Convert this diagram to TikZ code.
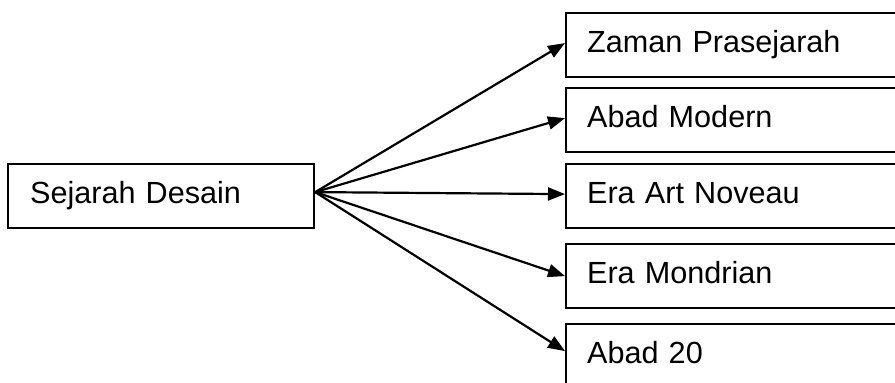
\documentclass[tikz,border=0pt]{standalone}
\usepackage{fontspec}
\setmainfont{Liberation Sans}
\usetikzlibrary{arrows.meta,calc}
\begin{document}
\begin{tikzpicture}[x=1pt,y=-1pt,
  box/.style={draw=black,line width=2.2pt,rectangle,anchor=north west,
    minimum height=64pt,text height=22pt,text depth=8pt,align=left,
    font=\fontsize{30.6}{36}\selectfont,inner ysep=0pt},
  leftbox/.style={box,inner xsep=22pt,text width=262pt},
  rightbox/.style={box,inner xsep=21pt,text width=318pt},
  conn/.style={line width=2.2pt,-{Triangle[length=17pt,width=13pt]}}]
\useasboundingbox (0,0) rectangle (895,383);
\clip (0,0) rectangle (895,383);
\node[leftbox] (src) at (7,163) {Sejarah Desain};
\node[rightbox] (b1) at (565,12) {Zaman Prasejarah};
\node[rightbox] (b2) at (565,87) {Abad Modern};
\node[rightbox] (b3) at (565,163) {Era Art Noveau};
\node[rightbox] (b4) at (565,243) {Era Mondrian};
\node[rightbox] (b5) at (565,323) {Abad 20};
\coordinate (o) at ($(src.east)+(0,-4)$);
\draw[conn] (o) -- ($(b1.west)+(0,-2)$);
\draw[conn] (o) -- ($(b2.west)+(0,-2)$);
\draw[conn] (o) -- ($(b3.west)+(0,-2)$);
\draw[conn] (o) -- ($(b4.west)+(0,0)$);
\draw[conn] (o) -- ($(b5.west)+(0,-5)$);
\end{tikzpicture}
\end{document}
